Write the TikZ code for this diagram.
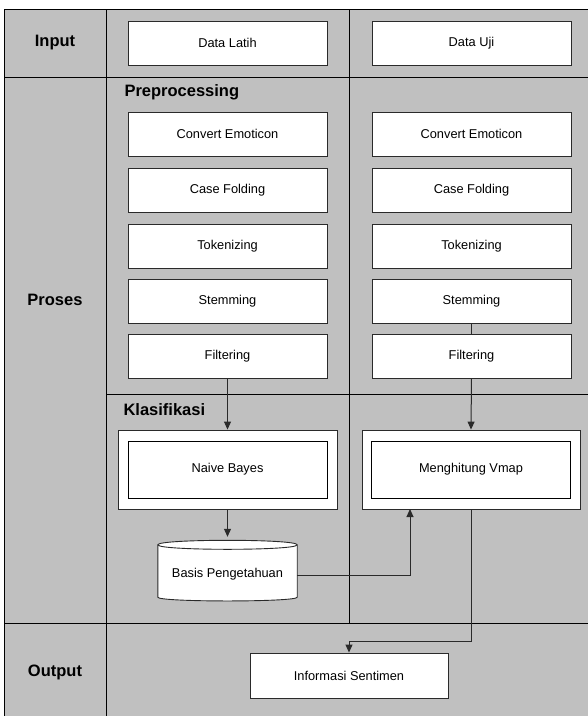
\documentclass[tikz,border=0pt]{standalone}
\usepackage{fontspec}
\setmainfont{Liberation Sans}
\usetikzlibrary{arrows.meta}
\definecolor{bggray}{HTML}{C0C0C0}
\definecolor{edge}{HTML}{2A2A2A}
\begin{document}
\begin{tikzpicture}[x=1pt,y=-1pt,
  box/.style={draw=edge,line width=0.9pt,fill=white,minimum width=199pt,minimum height=44pt,inner sep=0pt,font=\fontsize{12.8}{14}\selectfont},
  outerbox/.style={draw=edge,line width=0.9pt,fill=white,minimum height=79pt,inner sep=0pt},
  innerbox/.style={draw=black,line width=0.9pt,fill=white,minimum width=199pt,minimum height=57pt,inner sep=0pt,font=\fontsize{12.8}{14}\selectfont},
  lane/.style={font=\bfseries\fontsize{16.5}{18}\selectfont},
  sub/.style={font=\bfseries\fontsize{16.5}{18}\selectfont,anchor=west},
  grid/.style={draw=black,line width=0.9pt},
  conn/.style={draw=edge,line width=1pt},
  arr/.style={conn,-{Triangle[width=7pt,length=8pt]}}]
\useasboundingbox (0,0) rectangle (588,716);
\fill[white] (0,0) rectangle (588,716);
\fill[bggray] (4,9) rectangle (588,716);
% grid lines
\draw[grid] (4,716) -- (4,9) -- (588,9);
\draw[grid] (4,77) -- (588,77);
\draw[grid] (4,623) -- (588,623);
\draw[grid] (106,394) -- (588,394);
\draw[grid] (106,9) -- (106,716);
\draw[grid] (349,9) -- (349,623);
% lane labels
\node[lane] (lin) at (55,43) {Input};
\node[lane] (lpr) at (55,300) {Proses};
\node[lane] (lout) at (55,672) {Output};
\node[sub] (lpre) at (121,92) {Preprocessing};
\node[sub] (lkla) at (120,410) {Klasifikasi};
% input
\node[box] (dl) at (227.5,43) {Data Latih};
\node[box] (du) at (471.5,43) {Data Uji};
% preprocessing left
\node[box] (ce1) at (227.5,134) {Convert Emoticon};
\node[box] (cf1) at (227.5,190) {Case Folding};
\node[box] (tk1) at (227.5,246) {Tokenizing};
\node[box] (st1) at (227.5,301) {Stemming};
\node[box] (fl1) at (227.5,356) {Filtering};
% preprocessing right
\node[box] (ce2) at (471.5,134) {Convert Emoticon};
\node[box] (cf2) at (471.5,190) {Case Folding};
\node[box] (tk2) at (471.5,246) {Tokenizing};
\node[box] (st2) at (471.5,301) {Stemming};
\node[box] (fl2) at (471.5,356) {Filtering};
% klasifikasi
\node[outerbox,minimum width=219pt] (nbo) at (227.5,469.5) {};
\node[innerbox] (nb) at (227.5,469.5) {Naive Bayes};
\node[outerbox,minimum width=218pt] (mvo) at (471,469.5) {};
\node[innerbox] (mv) at (471,469.5) {Menghitung Vmap};
% cylinder
\node[minimum width=139pt,minimum height=67pt,inner sep=0pt] (db) at (227.5,570.5) {};
\filldraw[draw=edge,line width=0.9pt,fill=white]
  ([yshift=-8pt]db.north west)
  .. controls ([yshift=-2pt]db.north west) and ([yshift=-2pt]db.north east) .. ([yshift=-8pt]db.north east)
  -- ([yshift=7pt]db.south east)
  .. controls ([yshift=2pt]db.south east) and ([yshift=2pt]db.south west) .. ([yshift=7pt]db.south west)
  -- cycle;
\draw[draw=edge,line width=0.9pt]
  ([yshift=-8pt]db.north west)
  .. controls ([yshift=-14pt]db.north west) and ([yshift=-14pt]db.north east) .. ([yshift=-8pt]db.north east);
\node[font=\fontsize{12.8}{14}\selectfont] (dbt) at (227.5,574) {Basis Pengetahuan};
% output
\node[box,minimum width=198pt,minimum height=45pt] (info) at (349,675.5) {Informasi Sentimen};
% connectors
\draw[conn] (st2.south) -- (fl2.north);
\draw[arr] (fl1.south) -- (nbo.north);
\draw[arr] (fl2.south) -- (mvo.north);
\draw[arr] (nbo.south) -- (db.north);
\coordinate (mvin) at (410,509);
\draw[arr] ([yshift=-4.5pt]db.east) -| (mvin);
\coordinate (turn) at (471,641);
\draw[arr] (mvo.south) -- (turn) -| (info.north);
\end{tikzpicture}
\end{document}
